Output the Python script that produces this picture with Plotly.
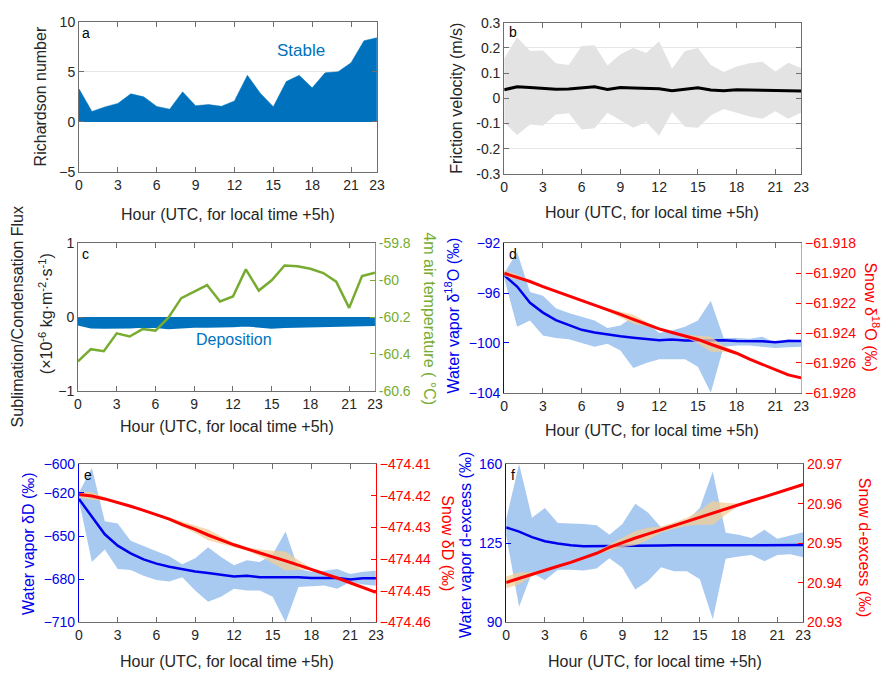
import plotly.graph_objects as go

W, H = 895, 686

hours = list(range(24))
xtick_vals = [0, 3, 6, 9, 12, 15, 18, 21, 23]

# (a) Richardson number
richardson = [3.3, 1.05, 1.5, 1.85, 2.8, 2.5, 1.55, 1.27, 3.0, 1.62, 1.73, 1.56, 2.1, 4.65,
              2.85, 1.52, 4.03, 4.65, 3.4, 4.9, 5.0, 5.9, 8.1, 8.4]

# (b) Friction velocity
ustar_mean = [0.034, 0.046, 0.043, 0.040, 0.036, 0.037, 0.041, 0.046, 0.035, 0.043, 0.041, 0.041,
              0.038, 0.030, 0.035, 0.042, 0.033, 0.030, 0.034, 0.032, 0.032, 0.031, 0.029, 0.029]
ustar_upper = [0.158, 0.242, 0.188, 0.19, 0.139, 0.132, 0.207, 0.21, 0.13, 0.175, 0.2, 0.18,
               0.226, 0.117, 0.188, 0.2, 0.132, 0.104, 0.126, 0.139, 0.145, 0.106, 0.141, 0.12]
ustar_lower = [-0.096, -0.145, -0.104, -0.109, -0.064, -0.059, -0.123, -0.119, -0.057, -0.087,
               -0.117, -0.094, -0.148, -0.055, -0.113, -0.117, -0.068, -0.042, -0.057, -0.072,
               -0.081, -0.051, -0.081, -0.057]

# (c) Sublimation/condensation flux and 4 m air temperature
flux = [-0.10, -0.14, -0.143, -0.143, -0.14, -0.13, -0.135, -0.152, -0.14, -0.13, -0.13, -0.13,
        -0.125, -0.113, -0.13, -0.143, -0.135, -0.13, -0.125, -0.125, -0.12, -0.113, -0.113, -0.108]
air_temp = [-60.44, -60.374, -60.385, -60.288, -60.305, -60.265, -60.273, -60.203, -60.097,
            -60.061, -60.026, -60.115, -60.088, -59.941, -60.056, -60.0, -59.92, -59.924,
            -59.938, -59.961, -60.008, -60.15, -59.977, -59.959]

# (d) d18O
vap_d18O = [-94.56, -95.47, -96.77, -97.56, -98.16, -98.57, -98.94, -99.15, -99.33, -99.46,
            -99.57, -99.67, -99.77, -99.72, -99.8, -99.8, -99.78, -99.78, -99.83, -99.83,
            -99.86, -99.93, -99.84, -99.84]
vap_d18O_upper = [-94.4, -92.7, -95.9, -96.2, -97.2, -97.6, -97.9, -98.2, -98.8, -98.6, -97.9,
                  -98.3, -99.2, -99.0, -98.7, -98.2, -96.6, -99.6, -99.6, -99.65, -99.5, -100.0,
                  -99.7, -99.8]
vap_d18O_lower = [-94.8, -98.7, -98.2, -99.4, -99.6, -99.7, -100.0, -100.3, -100.06, -100.6,
                  -102.0, -101.6, -101.3, -101.3, -101.3, -101.9, -104.0, -100.3, -100.2, -100.2,
                  -100.3, -100.4, -100.35, -100.3]
snow_d18O = [-61.92000, -61.92025, -61.92055, -61.92090, -61.92120, -61.92152, -61.92183,
             -61.92213, -61.92245, -61.92275, -61.92308, -61.92340, -61.92372, -61.92396,
             -61.92420, -61.92443, -61.92475, -61.92505, -61.92535, -61.92575, -61.92610,
             -61.92645, -61.92680, -61.92700]
snow_d18O_sd = [0.0002, 0.00015, 0.00005, 0.00003, 0.00003, 0.00003, 0.00003, 0.00005, 0.0001,
                0.0002, 0.0003, 0.00015, 0.00005, 0.00005, 0.0001, 0.00025, 0.0005, 0.0002,
                0.00005, 0.00003, 0.00003, 0.00003, 0.00003, 0.00003]

# (e) dD
vap_dD = [-624.3, -636.7, -648.8, -656.7, -662.1, -666.2, -669.2, -671.4, -673.2, -674.6,
          -675.7, -677.1, -678.2, -677.6, -678.7, -678.7, -678.5, -678.7, -679.1, -679.1,
          -679.1, -680.3, -679.4, -679.4]
vap_dD_upper = [-619.7, -602.7, -639.7, -641.3, -653.3, -657.1, -660.5, -664.0, -669.6, -665.5,
                -657.8, -664.6, -670.3, -666.9, -668.0, -662.8, -646.9, -673.0, -674.8, -674.1,
                -673.0, -676.4, -674.8, -674.1]
vap_dD_lower = [-625.4, -668.0, -659.4, -673.0, -673.7, -677.6, -680.5, -681.6, -678.7, -687.8,
                -695.7, -692.3, -686.6, -687.8, -687.8, -692.3, -710.0, -685.5, -685.0, -684.4,
                -686.6, -682.0, -683.7, -684.6]
snow_dD = [-474.4196, -474.4201, -474.4210, -474.4221, -474.4233, -474.4246, -474.4260,
           -474.4274, -474.4291, -474.4306, -474.4324, -474.4340, -474.4355, -474.4368,
           -474.4380, -474.4394, -474.4406, -474.4419, -474.4432, -474.4445, -474.4460,
           -474.4475, -474.4490, -474.4505]
snow_dD_sd = [0.001, 0.0012, 0.0005, 0.0003, 0.0003, 0.0003, 0.0003, 0.0005, 0.0008, 0.0012,
              0.0017, 0.0012, 0.0006, 0.0006, 0.001, 0.002, 0.003, 0.0015, 0.0003, 0.0003,
              0.0003, 0.0003, 0.0003, 0.0003]

# (f) d-excess
vap_dxs = [132.0, 130.1, 127.7, 125.9, 124.9, 124.1, 123.7, 123.7, 123.7, 123.7, 123.7, 123.9,
           124.0, 124.1, 124.0, 124.1, 124.1, 124.1, 124.1, 124.1, 124.1, 124.0, 124.1, 124.2]
vap_dxs_upper = [135.6, 160.0, 136.3, 140.6, 133.9, 133.8, 133.5, 133.0, 128.7, 133.5, 142.5,
                 138.5, 132.0, 133.5, 134.9, 140.6, 156.7, 129.6, 128.7, 127.3, 131.0, 127.0,
                 128.4, 129.9]
vap_dxs_lower = [128.4, 96.9, 111.9, 108.6, 113.3, 113.3, 112.9, 113.8, 118.4, 114.1, 104.5,
                 108.4, 114.4, 112.6, 112.6, 109.1, 91.4, 118.1, 119.1, 119.8, 117.0, 119.8,
                 120.1, 118.8]
snow_dxs = [20.94008, 20.94115, 20.94213, 20.94311, 20.94418, 20.94516, 20.94623, 20.94746,
            20.94893, 20.95016, 20.95131, 20.95238, 20.95344, 20.95443, 20.95541, 20.95648,
            20.95770, 20.95869, 20.95975, 20.96074, 20.96172, 20.96270, 20.96377, 20.96484]
snow_dxs_sd = [0.0015, 0.0015, 0.0005, 0.0003, 0.0003, 0.0003, 0.0003, 0.0004, 0.0008, 0.0012,
               0.0018, 0.0015, 0.0008, 0.0008, 0.001, 0.0018, 0.003, 0.0015, 0.0003, 0.0003,
               0.0003, 0.0003, 0.0003, 0.0003]

# ---------------------------------------------------------------- styling
FONT = "Liberation Sans, Arial, sans-serif"
DARK = "#262626"
SPINE = "#6e6e6e"
MBLUE = "#0072BD"
VBLUE = "#0000EE"
BAND_BLUE = "#A9CAF0"
TAN = "rgba(243,205,150,0.75)"
RED = "#FF0000"
GREEN = "#77AC30"
TICKF = 14
TITLEF = 16


def dx(l, r):
    return [l / W, r / W]


def dy(t, b):
    return [1 - b / H, 1 - t / H]


def px(x):
    return x / W


def py(y):
    return 1 - y / H


fig = go.Figure()


def band(x, up, lo, color, xa, ya):
    fig.add_trace(go.Scatter(x=x, y=up, mode="lines", line=dict(width=0), hoverinfo="skip",
                             showlegend=False, xaxis=xa, yaxis=ya))
    fig.add_trace(go.Scatter(x=x, y=lo, mode="lines", line=dict(width=0), fill="tonexty",
                             fillcolor=color, hoverinfo="skip", showlegend=False,
                             xaxis=xa, yaxis=ya))


# (a)
fig.add_trace(go.Scatter(x=hours, y=richardson, mode="lines", fill="tozeroy",
                         fillcolor=MBLUE, line=dict(color=MBLUE, width=0.5),
                         showlegend=False, xaxis="x", yaxis="y"))
# (b)
band(hours, ustar_upper, ustar_lower, "#E3E3E3", "x2", "y2")
fig.add_trace(go.Scatter(x=hours, y=ustar_mean, mode="lines", line=dict(color="black", width=3),
                         showlegend=False, xaxis="x2", yaxis="y2"))
# (c)
fig.add_trace(go.Scatter(x=hours, y=flux, mode="lines", fill="tozeroy", fillcolor=MBLUE,
                         line=dict(color=MBLUE, width=2), showlegend=False,
                         xaxis="x3", yaxis="y3"))
fig.add_trace(go.Scatter(x=hours, y=air_temp, mode="lines", line=dict(color=GREEN, width=2.5),
                         showlegend=False, xaxis="x3", yaxis="y4"))


def iso_panel(xa, yl, yr, v, vu, vl, s, ssd):
    band(hours, vu, vl, BAND_BLUE, xa, yl)
    fig.add_trace(go.Scatter(x=hours, y=v, mode="lines", line=dict(color=VBLUE, width=2.5),
                             showlegend=False, xaxis=xa, yaxis=yl))
    up = [a + b for a, b in zip(s, ssd)]
    lo = [a - b for a, b in zip(s, ssd)]
    band(hours, up, lo, TAN, xa, yr)
    fig.add_trace(go.Scatter(x=hours, y=s, mode="lines", line=dict(color=RED, width=3),
                             showlegend=False, xaxis=xa, yaxis=yr))


iso_panel("x4", "y5", "y6", vap_d18O, vap_d18O_upper, vap_d18O_lower, snow_d18O, snow_d18O_sd)
iso_panel("x5", "y7", "y8", vap_dD, vap_dD_upper, vap_dD_lower, snow_dD, snow_dD_sd)
iso_panel("x6", "y9", "y10", vap_dxs, vap_dxs_upper, vap_dxs_lower, snow_dxs, snow_dxs_sd)

# ---------------------------------------------------------------- axes
panels = {
    1: (76, 378, 14, 168),
    2: (507, 808, 15, 170),
    3: (75, 376, 241, 392),
    4: (507, 808, 241, 394),
    5: (76, 377, 467, 629),
    6: (509, 810, 467, 629),
}
yleft = {1: "y", 2: "y2", 3: "y3", 4: "y5", 5: "y7", 6: "y9"}

layout = dict(
    width=W, height=H, margin=dict(l=0, r=0, t=0, b=0),
    paper_bgcolor="white", plot_bgcolor="white", showlegend=False,
    font=dict(family=FONT, size=TICKF, color=DARK),
)

for i, (l, r, t, b) in panels.items():
    key = "xaxis" if i == 1 else f"xaxis{i}"
    layout[key] = dict(
        domain=dx(l, r), anchor=yleft[i], range=[0, 23], tickmode="array",
        tickvals=xtick_vals, ticks="inside", ticklen=5, tickcolor=SPINE, showline=True,
        linecolor=SPINE, linewidth=1, mirror="ticks", showgrid=False, zeroline=False,
        tickfont=dict(size=TICKF, color=DARK), fixedrange=True,
    )


def yax(domain_px, rng, tickvals, color, tickcolor, linecolor, grid=False, mirror=False,
        fmt=None, ticktext=None, anchor=None):
    d = dict(range=rng, tickmode="array", tickvals=tickvals, ticks="inside", ticklen=5,
             tickcolor=tickcolor, showline=True, linecolor=linecolor, linewidth=1,
             mirror=mirror, showgrid=grid, gridcolor="#E6E6E6", zeroline=False,
             tickfont=dict(size=TICKF, color=color), anchor=anchor)
    if domain_px is not None:
        d["domain"] = dy(*domain_px)
    if fmt:
        d["tickformat"] = fmt
    if ticktext:
        d["ticktext"] = ticktext
    return d


layout["yaxis"] = yax((14, 168), [-5, 10], [-5, 0, 5, 10], DARK, SPINE, SPINE, grid=True,
                      mirror="ticks", anchor="x")
layout["yaxis2"] = yax((15, 170), [-0.3, 0.3], [-0.3, -0.2, -0.1, 0, 0.1, 0.2, 0.3], DARK, SPINE,
                       SPINE, grid=True, mirror="ticks", anchor="x2",
                       ticktext=["-0.3", "-0.2", "-0.1", "0", "0.1", "0.2", "0.3"])
layout["yaxis3"] = yax((241, 392), [-1, 1], [-1, 0, 1], DARK, SPINE, SPINE, anchor="x3")
layout["yaxis4"] = yax(None, [-60.6, -59.8], [-60.6, -60.4, -60.2, -60.0, -59.8], GREEN, GREEN,
                       GREEN, anchor="x3",
                       ticktext=["-60.6", "-60.4", "-60.2", "-60", "-59.8"])
layout["yaxis4"].update(overlaying="y3", side="right")

layout["yaxis5"] = yax((241, 394), [-104, -92], [-104, -100, -96, -92], VBLUE, VBLUE, VBLUE,
                       anchor="x4")
layout["yaxis6"] = yax(None, [-61.928, -61.918],
                       [-61.928, -61.926, -61.924, -61.922, -61.920, -61.918], RED, RED,
                       "#D9A57E", anchor="x4", fmt=".3f")
layout["yaxis6"].update(overlaying="y5", side="right")

layout["yaxis7"] = yax((467, 629), [-710, -600], [-710, -680, -650, -620, -600], VBLUE, VBLUE,
                       VBLUE, anchor="x5")
layout["yaxis8"] = yax(None, [-474.46, -474.41],
                       [-474.46, -474.45, -474.44, -474.43, -474.42, -474.41], RED, RED, RED,
                       anchor="x5", fmt=".2f")
layout["yaxis8"].update(overlaying="y7", side="right")

layout["yaxis9"] = yax((467, 629), [90, 160], [90, 125, 160], VBLUE, VBLUE, VBLUE, anchor="x6")
layout["yaxis10"] = yax(None, [20.93, 20.97], [20.93, 20.94, 20.95, 20.96, 20.97], RED, RED, RED,
                        anchor="x6", fmt=".2f")
layout["yaxis10"].update(overlaying="y9", side="right")

fig.update_layout(**layout)

# ---------------------------------------------------------------- texts
ann = []


def text(x, y, s, size=TITLEF, color=DARK, angle=0):
    ann.append(dict(x=px(x), y=py(y), xref="paper", yref="paper", text=s, showarrow=False,
                    font=dict(family=FONT, size=size, color=color), textangle=angle,
                    xanchor="center", yanchor="middle"))


XT = "Hour (UTC, for local time +5h)"
text(227, 211, XT)
text(657, 209, XT)
text(226, 429, XT)
text(657, 433, XT)
text(226, 669, XT)
text(660, 669, XT)

text(37, 91, "Richardson number", angle=-90)
text(459, 92, "Friction velocity (m/s)", angle=-90)
text(14, 316, "Sublimation/Condensation Flux", angle=-90)
text(42, 313, "(×10<sup>-6</sup> kg·m<sup>-2</sup>·s<sup>-1</sup>)", angle=-90)
text(431, 318, "4m air temperature ( °C)", color=GREEN, angle=90)
text(454, 315, "Water vapor δ<sup>18</sup>O (‰)", color=VBLUE, angle=-90)
text(880, 316, "Snow δ<sup>18</sup>O (‰)", color=RED, angle=90)
text(25, 548, "Water vapor δD (‰)", color=VBLUE, angle=-90)
text(450, 548, "Snow δD (‰)", color=RED, angle=90)
text(467, 550, "Water vapor d-excess (‰)", color=VBLUE, angle=-90)
text(873, 553, "Snow d-excess (‰)", color=RED, angle=90)

text(301, 44, "Stable", size=17, color=MBLUE)
text(233, 339, "Deposition", size=16, color=MBLUE)

for lab, (x, y) in zip("abcdef", [(83, 26), (516, 25), (83, 252), (516, 252), (85, 478),
                                  (516, 478)]):
    text(x, y, lab, size=14, color="black")

fig.update_layout(annotations=ann)
fig.write_html("out.html")
